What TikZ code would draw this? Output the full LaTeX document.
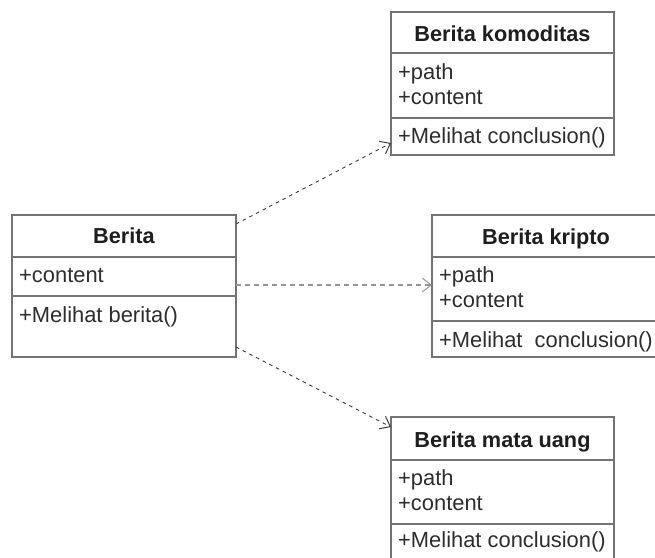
\documentclass[tikz,border=0pt]{standalone}
\usepackage{fontspec}
\setmainfont{Liberation Sans}
\usetikzlibrary{arrows.meta}
\definecolor{linegray}{RGB}{115,115,115}
\definecolor{txt}{RGB}{30,30,30}
\definecolor{itemtxt}{RGB}{45,45,45}
\definecolor{depdark}{RGB}{60,60,60}
\definecolor{deplight}{RGB}{150,150,150}
\tikzset{
  part/.style={draw=linegray, line width=1.4pt, fill=white, anchor=north west, inner sep=0pt, outer sep=0pt},
  hdr/.style={font=\bfseries\fontsize{21.7}{25}\selectfont, text=txt, anchor=base, inner sep=0pt},
  item/.style={font=\fontsize{21.9}{25}\selectfont, text=itemtxt, anchor=base west, inner sep=0pt},
  dep/.style={draw=depdark, line width=0.9pt, dash pattern=on 3.5pt off 4pt,
              -{Straight Barb[length=9pt,width=14pt,line width=1pt]}},
}
\begin{document}
\begin{tikzpicture}[x=1pt,y=-1pt]
\useasboundingbox (0,0) rectangle (655,557);
\fill[white] (0,0) rectangle (655,557);

% Berita komoditas
\node[part, minimum width=223pt, minimum height=41pt] (kh) at (391,12) {};
\node[part, minimum width=223pt, minimum height=65pt] (ka) at (391,53) {};
\node[part, minimum width=223pt, minimum height=37pt] (km) at (391,118) {};
\node[hdr] (kt) at (502.5,41) {Berita komoditas};
\node[item] (k1) at (398,79) {+path};
\node[item] (k2) at (398,104) {+content};
\node[item] (k3) at (398,143) {+Melihat conclusion()};

% Berita
\node[part, minimum width=224pt, minimum height=42pt] (bh) at (12,215) {};
\node[part, minimum width=224pt, minimum height=39pt] (ba) at (12,257) {};
\node[part, minimum width=224pt, minimum height=61pt] (bm) at (12,296) {};
\node[hdr] (bt) at (124,243) {Berita};
\node[item] (b1) at (19,282) {+content};
\node[item] (b2) at (19,322) {+Melihat berita()};

% Berita kripto
\node[part, minimum width=228pt, minimum height=42pt] (rh) at (432,215) {};
\node[part, minimum width=228pt, minimum height=64pt] (ra) at (432,257) {};
\node[part, minimum width=228pt, minimum height=36pt] (rm) at (432,321) {};
\node[hdr] (rt) at (546,244) {Berita kripto};
\node[item] (r1) at (439,282) {+path};
\node[item] (r2) at (439,307) {+content};
\node[item] (r3) at (439,347) {+Melihat~~conclusion()};

% Berita mata uang
\node[part, minimum width=223pt, minimum height=43pt] (uh) at (391,417) {};
\node[part, minimum width=223pt, minimum height=64pt] (ua) at (391,460) {};
\node[part, minimum width=223pt, minimum height=40pt] (um) at (391,524) {};
\node[hdr] (ut) at (502.5,447) {Berita mata uang};
\node[item] (u1) at (398,485) {+path};
\node[item] (u2) at (398,510) {+content};
\node[item] (u3) at (398,547) {+Melihat conclusion()};

% dependencies
\draw[dep] ([yshift=-9pt]bh.north east) -- ([yshift=-25pt]km.north west);
\draw[dep, draw=deplight, line width=1.3pt, dash pattern=on 5pt off 4pt] ([yshift=-28pt]ba.north east) -- ([yshift=-28pt]ra.north west);
\draw[dep] ([yshift=10pt]bm.south east) -- ([yshift=-10pt]uh.north west);
\end{tikzpicture}
\end{document}
